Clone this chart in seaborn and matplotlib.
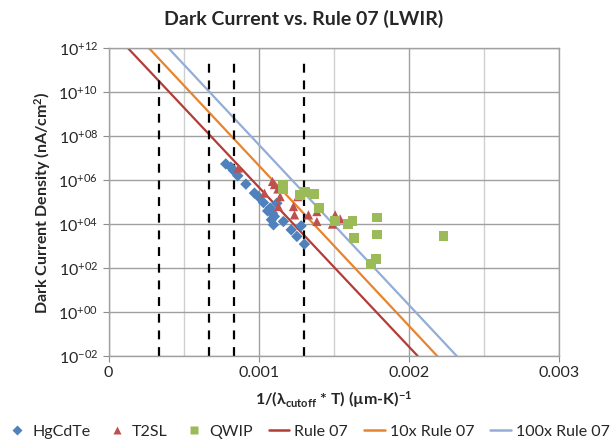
import math

import matplotlib
matplotlib.use("Agg")
import matplotlib.pyplot as plt
import matplotlib.ticker as mticker
from matplotlib.lines import Line2D
import pandas as pd
import seaborn as sns

# measured detectors: x = 1/(lambda_cutoff * T), value = log10(J in nA/cm^2)
hgcdte_x = [0.000781, 0.000815, 0.000832, 0.000861, 0.000915, 0.000972, 0.000999,
            0.001032, 0.001060, 0.001077, 0.001085, 0.001092, 0.001105, 0.001099,
            0.001121, 0.001165, 0.001217, 0.001255, 0.001283, 0.001305]
hgcdte_logj = [6.74, 6.59, 6.44, 6.20, 5.82, 5.41, 5.25,
               4.98, 4.60, 4.73, 4.20, 4.50, 4.35, 3.97,
               4.95, 4.12, 3.74, 3.44, 3.92, 3.09]

t2sl_x = [0.000865, 0.001039, 0.001092, 0.001105, 0.001128, 0.001143, 0.001132, 0.001232,
          0.001239, 0.001261, 0.001332, 0.001388, 0.001388, 0.001510, 0.001492, 0.001543]
t2sl_logj = [6.55, 5.41, 5.94, 5.80, 5.60, 5.25, 4.80, 4.80,
             4.42, 5.25, 4.42, 4.57, 4.12, 4.42, 4.00, 4.24]

qwip_x = [0.001165, 0.001165, 0.001277, 0.001310, 0.001372, 0.001403, 0.001510, 0.001595,
          0.001625, 0.001635, 0.001788, 0.001788, 0.001781, 0.001750, 0.002232]
qwip_logj = [5.79, 5.60, 5.33, 5.45, 5.36, 4.75, 4.15, 4.00,
             4.15, 3.36, 4.30, 3.53, 2.41, 2.20, 3.47]

# Rule 07 reference lines (end points where they meet the plot frame)
rule07_x = [0.00013, 0.00206]
rule07_10x_x = [0.00027, 0.00219]
rule07_100x_x = [0.00040, 0.00232]
rule_logj = [12, -2]

# 10 um cutoff at 300 K, 150 K, 120 K, 77 K
cutoff_x = [0.000333, 0.000667, 0.000833, 0.001299]

series_names = ["HgCdTe", "T2SL", "QWIP"]
line_names = ["Rule 07", "10x Rule 07", "100x Rule 07"]

colors = {
    "HgCdTe": "#4F81BD",
    "T2SL": "#C0504D",
    "QWIP": "#9BBB59",
    "Rule 07": "#B33C37",
    "10x Rule 07": "#E8832E",
    "100x Rule 07": "#93ADD8",
}
markers = {"HgCdTe": "D", "T2SL": "^", "QWIP": "s"}
msizes = {"HgCdTe": 34, "T2SL": 44, "QWIP": 50}

sns.set_style("white")
plt.rcParams["font.family"] = ["Lato", "DejaVu Sans"]
plt.rcParams["mathtext.fontset"] = "custom"
plt.rcParams["mathtext.rm"] = "Lato"
plt.rcParams["mathtext.bf"] = "Lato:bold"
plt.rcParams["mathtext.default"] = "regular"

pts = pd.concat([
    pd.DataFrame({"x": hgcdte_x, "j": [10 ** v for v in hgcdte_logj], "kind": "HgCdTe"}),
    pd.DataFrame({"x": t2sl_x, "j": [10 ** v for v in t2sl_logj], "kind": "T2SL"}),
    pd.DataFrame({"x": qwip_x, "j": [10 ** v for v in qwip_logj], "kind": "QWIP"}),
])
lines = pd.concat([
    pd.DataFrame({"x": rule07_x, "j": [10 ** v for v in rule_logj], "kind": "Rule 07"}),
    pd.DataFrame({"x": rule07_10x_x, "j": [10 ** v for v in rule_logj], "kind": "10x Rule 07"}),
    pd.DataFrame({"x": rule07_100x_x, "j": [10 ** v for v in rule_logj], "kind": "100x Rule 07"}),
])

fig = plt.figure(figsize=(6.1, 4.45), dpi=100)
ax = fig.add_axes([0.178, 0.2, 0.738, 0.6915])
ax.set_yscale("log")

for name in series_names:
    sns.scatterplot(data=pts[pts["kind"] == name], x="x", y="j", marker=markers[name],
                    color=colors[name], s=msizes[name], edgecolor="none", ax=ax,
                    legend=False, zorder=3)

sns.lineplot(data=lines, x="x", y="j", hue="kind", palette=colors, estimator=None,
             sort=False, linewidth=1.6, legend=False, ax=ax, zorder=2)

ax.vlines(cutoff_x, 1e-2, 10 ** 11.6, colors="black", linestyles=(0, (4, 3.5)),
          linewidth=1.6, zorder=2)

ax.set_xlim(0, 0.003)
ax.set_ylim(1e-2, 1e12)
ax.xaxis.set_major_locator(mticker.MultipleLocator(0.001))
ax.xaxis.set_minor_locator(mticker.MultipleLocator(0.0005))
ax.xaxis.set_major_formatter(mticker.FuncFormatter(lambda v, p: "0" if v == 0 else f"{v:.3f}"))
ax.yaxis.set_major_locator(mticker.LogLocator(base=100, numticks=20))
ax.yaxis.set_minor_locator(mticker.NullLocator())


def fmt_pow(v, pos):
    e = int(round(math.log10(v)))
    sign = "+" if e >= 0 else "-"
    return f"10$^{{{sign}{abs(e):02d}}}$"


ax.yaxis.set_major_formatter(mticker.FuncFormatter(fmt_pow))
ax.tick_params(axis="both", which="major", labelsize=11.5, length=4, color="#8C8C8C",
               direction="out", bottom=True, left=True)
ax.tick_params(axis="x", which="minor", length=0)

ax.grid(True, which="major", axis="both", color="#A0A0A0", linewidth=1)
ax.grid(True, which="minor", axis="x", color="#D0D0D0", linewidth=1)
ax.set_axisbelow(True)
for sp in ax.spines.values():
    sp.set_color("#A0A0A0")
    sp.set_linewidth(1)

ax.set_xlabel(r"1/(λ$_{\mathbf{cutoff}}$ * T) (µm-K)$^{\mathbf{-1}}$", fontsize=11.5,
              fontweight="bold", labelpad=6)
ax.set_ylabel("Dark Current Density (nA/cm$^{\\mathbf{2}}$)", fontsize=11.5,
              fontweight="bold", labelpad=4)
fig.text(0.497, 0.958, "Dark Current vs. Rule 07 (LWIR)", ha="center", va="center",
         fontsize=14, fontweight="bold")

handles = []
for name in series_names:
    handles.append(Line2D([], [], marker=markers[name], color=colors[name], linestyle="none",
                          markersize=5.5, markeredgecolor="none"))
for name in line_names:
    handles.append(Line2D([], [], color=colors[name], linewidth=1.8))
fig.legend(handles, series_names + line_names, loc="center", bbox_to_anchor=(0.505, 0.03),
           ncol=6, frameon=False, fontsize=11.5, handlelength=1.3, handletextpad=0.3,
           columnspacing=1.0)

fig.savefig("out.png", dpi=100)
